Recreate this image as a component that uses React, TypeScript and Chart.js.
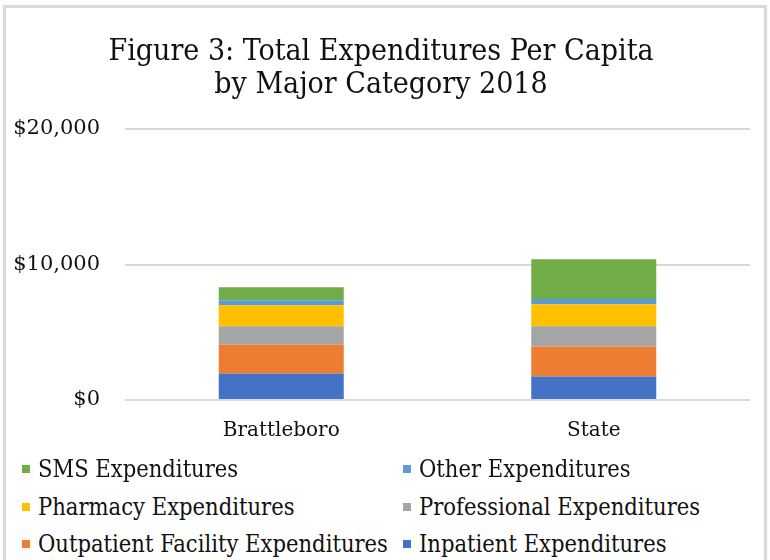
import React, { useEffect, useRef } from "react";
import { Chart, registerables } from "chart.js";

Chart.register(...registerables);

const categories = ["Brattleboro", "State"];
const inpatient = [1950, 1730];
const outpatient = [2120, 2215];
const professional = [1375, 1500];
const pharmacy = [1550, 1625];
const other = [370, 390];
const sms = [960, 2930];
const yTicks = [0, 10000, 20000];

const seriesNames = [
  "Inpatient Expenditures",
  "Outpatient Facility Expenditures",
  "Professional Expenditures",
  "Pharmacy Expenditures",
  "Other Expenditures",
  "SMS Expenditures",
];
const seriesValues = [inpatient, outpatient, professional, pharmacy, other, sms];
const seriesColors = ["#4472C4", "#ED7D31", "#A5A5A5", "#FFC000", "#5B9BD5", "#70AD47"];

// legend order (Excel reversed, row-wise in 2 columns)
const legendOrder = [5, 4, 3, 2, 1, 0];

const SERIF = '"DejaVu Serif", Georgia, serif';
const COND = '"DejaVu Serif Condensed", "Liberation Serif", serif';

export default function App() {
  const ref = useRef<HTMLCanvasElement | null>(null);
  useEffect(() => {
    if (!ref.current) return;
    const chart = new Chart(ref.current, {
      type: "bar",
      data: {
        labels: categories,
        datasets: seriesNames.map((name, i) => ({
          label: name,
          data: seriesValues[i],
          backgroundColor: seriesColors[i],
          borderWidth: 0,
          categoryPercentage: 1,
          barPercentage: 0.4,
        })),
      },
      options: {
        animation: false,
        responsive: false,
        maintainAspectRatio: false,
        layout: { padding: { left: 12, right: 20, top: 0, bottom: 8 } },
        plugins: {
          legend: { display: false },
          tooltip: { enabled: false },
          title: {
            display: true,
            text: ["Figure 3: Total Expenditures Per Capita", "by Major Category 2018"],
            color: "#111",
            font: { family: COND, size: 30, weight: "normal", lineHeight: 1.1 },
            padding: { top: 36, bottom: 27 },
          },
        },
        scales: {
          x: {
            stacked: true,
            grid: { display: false, drawTicks: false },
            border: { display: false },
            ticks: {
              color: "#111",
              padding: 19,
              font: { family: SERIF, size: 20 },
            },
          },
          y: {
            stacked: true,
            min: 0,
            max: 20000,
            afterBuildTicks: (axis: any) => {
              axis.ticks = yTicks.map((v) => ({ value: v }));
            },
            afterFit: (axis: any) => {
              axis.width = 113;
            },
            grid: { color: "#D9D9D9", lineWidth: 2, drawTicks: false },
            border: { display: false },
            ticks: {
              color: "#111",
              padding: 25,
              font: { family: SERIF, size: 21 },
              callback: (v: any) => "$" + Number(v).toLocaleString("en-US"),
            },
          },
        },
      },
    });
    return () => chart.destroy();
  }, []);

  return (
    <div style={{ position: "fixed", left: 0, top: 0, width: 770, height: 560, background: "#fff", overflow: "hidden" }}>
      <div style={{ position: "absolute", left: 3, top: 5, width: 758, height: 600, border: "3px solid #D9D9D9" }} />
      <canvas ref={ref} width={770} height={470} style={{ position: "absolute", left: 0, top: 0, width: 770, height: 470 }} />
      {legendOrder.map((idx, k) => {
        const col = k % 2;
        const row = Math.floor(k / 2);
        return (
          <div
            key={idx}
            style={{
              position: "absolute",
              left: col === 0 ? 22 : 403,
              top: 469 + row * 37.5 - 15,
              height: 30,
              display: "flex",
              alignItems: "center",
              fontFamily: COND,
              fontSize: 23.5,
              color: "#111",
              whiteSpace: "nowrap",
            }}
          >
            <span style={{ display: "inline-block", width: 8, height: 8, background: seriesColors[idx], marginRight: 8 }} />
            <span>{seriesNames[idx]}</span>
          </div>
        );
      })}
    </div>
  );
}
